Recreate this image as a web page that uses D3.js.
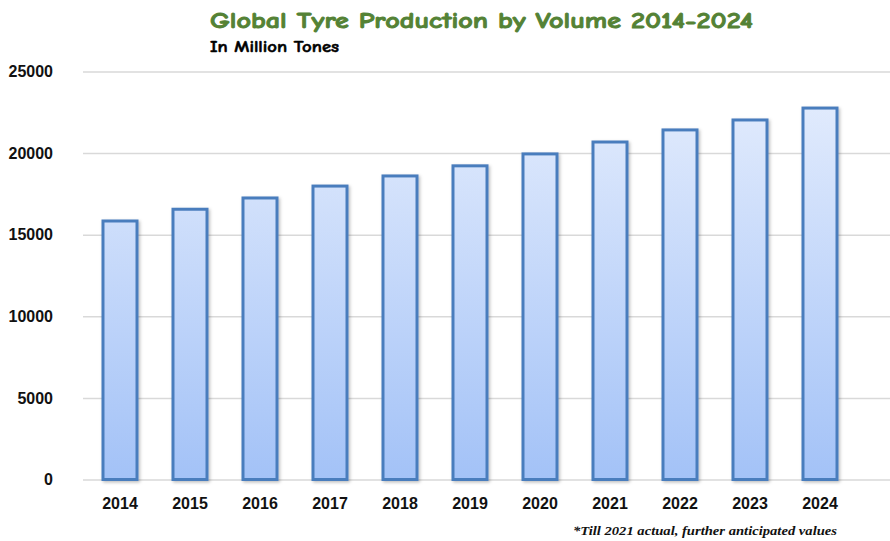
<!DOCTYPE html>
<html>
<head>
<meta charset="utf-8">
<script src="https://cdn.jsdelivr.net/npm/d3@7/dist/d3.min.js"></script>
<style>
  html, body { margin: 0; padding: 0; background: #fff; }
  svg { display: block; }
</style>
</head>
<body>
<svg id="chart" width="890" height="541"></svg>
<script>
const years = ["2014","2015","2016","2017","2018","2019","2020","2021","2022","2023","2024"];
const production = [15840, 16560, 17250, 17980, 18600, 19220, 19950, 20680, 21420, 22030, 22760];
const yTicks = [0, 5000, 10000, 15000, 20000, 25000];
const titleText = "Global Tyre Production by Volume 2014-2024";
const subtitleText = "In Million Tones";
const footnoteText = "*Till 2021 actual, further anticipated values";

const svg = d3.select("#chart");
const W = 890, H = 541;

const x = d3.scaleBand().domain(years).range([83.5, 853.5]).paddingInner(0.514).paddingOuter(0.257);
const y = d3.scaleLinear().domain([0, 25000]).range([479.5, 71.5]);

const defs = svg.append("defs");
const grad = defs.append("linearGradient").attr("id", "barGrad")
  .attr("gradientUnits", "userSpaceOnUse")
  .attr("x1", 0).attr("x2", 0).attr("y1", y(25000)).attr("y2", y(0));
grad.append("stop").attr("offset", "0%").attr("stop-color", "#e6eefd");
grad.append("stop").attr("offset", "100%").attr("stop-color", "#a3c2f7");

const shadow = defs.append("filter").attr("id", "shadow")
  .attr("x", "-20%").attr("y", "-5%").attr("width", "150%").attr("height", "115%");
shadow.append("feDropShadow").attr("dx", 1.5).attr("dy", 1.5).attr("stdDeviation", 1.5)
  .attr("flood-color", "#000").attr("flood-opacity", 0.25);

// gridlines
const yAxis = d3.axisLeft(y).tickValues(yTicks).tickSize(-(W - 83)).tickFormat(d => d).tickPadding(30);
const gy = svg.append("g").attr("transform", "translate(83,0)").call(yAxis);
gy.select(".domain").remove();
gy.selectAll(".tick line").attr("stroke", "#d9d9d9").attr("stroke-width", 1.5);
gy.selectAll(".tick text")
  .attr("fill", "#111")
  .attr("font-family", "'Liberation Sans', Arial, sans-serif")
  .attr("font-weight", "bold")
  .attr("font-size", 16);

// bars
svg.append("g").selectAll("rect").data(years).join("rect")
  .attr("x", d => x(d) + 1.5)
  .attr("width", x.bandwidth())
  .attr("y", (d, i) => y(production[i]))
  .attr("height", (d, i) => y(0) - y(production[i]))
  .attr("fill", "url(#barGrad)")
  .attr("stroke", "#4a7dbd")
  .attr("stroke-width", 3)
  .attr("filter", "url(#shadow)");

// x axis labels
const xAxis = d3.axisBottom(x).tickSize(0).tickPadding(0);
const gx = svg.append("g").attr("transform", "translate(1.5,498)").call(xAxis);
gx.select(".domain").remove();
gx.selectAll(".tick text")
  .attr("fill", "#111")
  .attr("font-family", "'Liberation Sans', Arial, sans-serif")
  .attr("font-weight", "bold")
  .attr("font-size", 16)
  .attr("dy", "0.71em");

// titles
svg.append("text")
  .attr("x", 210).attr("y", 28)
  .attr("fill", "#548235")
  .attr("stroke", "#548235")
  .attr("stroke-width", 0.9)
  .attr("font-family", "'Comic Sans MS', 'Comic Neue', Lato, sans-serif")
  .attr("font-weight", "bold")
  .attr("font-size", 23)
  .attr("textLength", 543)
  .attr("lengthAdjust", "spacingAndGlyphs")
  .text(titleText);

svg.append("text")
  .attr("x", 210).attr("y", 52)
  .attr("fill", "#000")
  .attr("stroke", "#000")
  .attr("stroke-width", 0.5)
  .attr("font-family", "'Comic Sans MS', 'Comic Neue', Lato, sans-serif")
  .attr("font-weight", "bold")
  .attr("font-size", 16)
  .attr("textLength", 129)
  .attr("lengthAdjust", "spacingAndGlyphs")
  .text(subtitleText);

svg.append("text")
  .attr("x", 573).attr("y", 535)
  .attr("fill", "#111")
  .attr("font-family", "'Liberation Serif', 'Times New Roman', serif")
  .attr("font-weight", "bold")
  .attr("font-style", "italic")
  .attr("font-size", 13.5)
  .attr("textLength", 264)
  .attr("lengthAdjust", "spacingAndGlyphs")
  .text(footnoteText);
</script>
</body>
</html>
